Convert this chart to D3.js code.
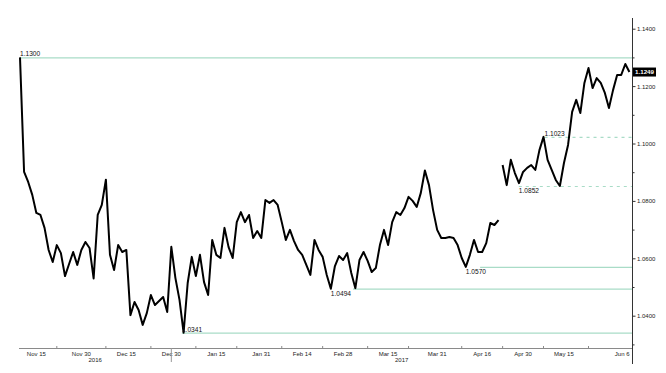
<!DOCTYPE html>
<html>
<head>
<meta charset="utf-8">
<script src="https://cdn.jsdelivr.net/npm/d3@7"></script>
<style>
  body { margin: 0; background: #fff; }
  svg { display: block; font-family: "Liberation Sans", Arial, sans-serif; }
</style>
</head>
<body>
<svg width="666" height="373"></svg>
<script>
// EUR/USD, one reading per trading day (Nov 9 2016 -> Jun 6 2017)
const firstDay = "2016-11-09"
const lastDay = "2017-06-06"
const eurusd = [
  1.1300, 1.0901, 1.0866, 1.0821, 1.0758, 1.0751, 1.0706, 1.0629, 1.0587, 1.0646,
  1.0618, 1.0538, 1.0580, 1.0622, 1.0577, 1.0629, 1.0657, 1.0636, 1.0530, 1.0751,
  1.0786, 1.0874, 1.0612, 1.0559, 1.0646, 1.0622, 1.0629, 1.0402, 1.0448, 1.0420,
  1.0368, 1.0409, 1.0472, 1.0437, 1.0451, 1.0465, 1.0413, 1.0640, 1.0531, 1.0455,
  1.0341, 1.0514, 1.0605, 1.0538, 1.0612, 1.0517, 1.0472, 1.0664, 1.0612, 1.0601,
  1.0706, 1.0639, 1.0601, 1.0726, 1.0761, 1.0726, 1.0751, 1.0671, 1.0695, 1.0671,
  1.0803, 1.0793, 1.0803, 1.0786, 1.0726, 1.0664, 1.0699, 1.0660, 1.0629, 1.0612,
  1.0577, 1.0542, 1.0664, 1.0629, 1.0605, 1.0542, 1.0494, 1.0573, 1.0608, 1.0594,
  1.0618, 1.0549, 1.0496, 1.0594, 1.0622, 1.0591, 1.0552, 1.0566, 1.0646, 1.0699,
  1.0646, 1.0726, 1.0761, 1.0751, 1.0775, 1.0814, 1.0800, 1.0779, 1.0828, 1.0906,
  1.0855, 1.0768, 1.0699, 1.0671, 1.0671, 1.0674, 1.0671, 1.0646, 1.0601, 1.0570,
  1.0612, 1.0664, 1.0622, 1.0622, 1.0653, 1.0723, 1.0716, 1.0733, 1.0925, 1.0855,
  1.0943, 1.0897, 1.0862, 1.0901, 1.0915, 1.0925, 1.0908, 1.0977, 1.1023, 1.0943,
  1.0908, 1.0873, 1.0852, 1.0932, 1.0995, 1.1110, 1.1152, 1.1106, 1.1211, 1.1263,
  1.1193, 1.1228, 1.1211, 1.1176, 1.1124, 1.1186, 1.1239, 1.1239, 1.1277, 1.1249
]
// weekend gap that the chart leaves open (French election)
const gapDays = ["2017-04-24"]

const tickDates = ["2016-11-15", "2016-11-30", "2016-12-15", "2016-12-30", "2017-01-15", "2017-01-31",
  "2017-02-14", "2017-02-28", "2017-03-15", "2017-03-31", "2017-04-16", "2017-04-30", "2017-05-15", "2017-06-06"]
const tickLabels = ["Nov 15", "Nov 30", "Dec 15", "Dec 30", "Jan 15", "Jan 31",
  "Feb 14", "Feb 28", "Mar 15", "Mar 31", "Apr 16", "Apr 30", "May 15", "Jun 6"]
const minorTickDates = ["2016-11-22", "2016-12-08", "2016-12-23", "2017-01-09", "2017-01-23", "2017-02-07",
  "2017-02-21", "2017-03-08", "2017-03-22", "2017-04-10", "2017-04-24", "2017-05-08", "2017-05-23"]
const years = ["2016", "2017"]

const yTicks = [1.04, 1.06, 1.08, 1.10, 1.12, 1.14]
const yMinorTicks = [1.03, 1.05, 1.07, 1.09, 1.11, 1.13]

// high / low levels
const levelValues = [1.1300, 1.0341, 1.0494, 1.0570, 1.0852, 1.1023]
const levelStart = ["2016-11-09T00:00", "2017-01-03T14:00", "2017-03-02T10:00", "2017-04-14T12:00", "2017-04-27T23:00", "2017-05-08T06:00"]
const levelLabelAt = ["2016-11-09T00:00", "2017-01-03T14:00", "2017-02-23T00:00", "2017-04-11T00:00", "2017-04-27T23:00", "2017-05-08T06:00"]
const levelDashed = [false, false, false, false, true, true]
const levelBelow = [false, false, true, true, true, false]

const lastPrice = 1.1249

// ---------------------------------------------------------------

const svg = d3.select("svg")
const parseDay = d3.timeParse("%Y-%m-%d")
const parseTime = d3.timeParse("%Y-%m-%dT%H:%M")

const tradingDays = d3.timeDay.range(parseDay(firstDay), d3.timeDay.offset(parseDay(lastDay), 1))
  .filter(d => d.getDay() !== 0 && d.getDay() !== 6)

function dayIndex(s) {
  const t = s.length > 10 ? parseTime(s) : parseDay(s)
  const day = d3.timeDay.floor(t)
  const i = d3.bisectLeft(tradingDays, day)
  if (tradingDays[i] && +tradingDays[i] === +day) return i + (t - day) / 864e5
  return i
}

const plot = { left: 19, right: 632, top: 18, bottom: 348 }

const x = d3.scaleLinear()
  .domain([0, tradingDays.length - 1])
  .range([20, 629.4])

const y = d3.scaleLinear()
  .domain([1.04, 1.14])
  .range([315.7, 28.7])

const levelColor = "#a9dcc7"

// level lines
levelValues.forEach((v, k) => {
  svg.append("line")
    .attr("x1", x(dayIndex(levelStart[k])))
    .attr("x2", plot.right)
    .attr("y1", y(v) + 0.5)
    .attr("y2", y(v) + 0.5)
    .attr("stroke", levelColor)
    .attr("stroke-width", 1.2)
    .attr("stroke-dasharray", levelDashed[k] ? "3,4" : null)
})

// price line
const gapIdx = gapDays.map(dayIndex)
const segments = []
let cur = []
eurusd.forEach((v, i) => {
  if (gapIdx.includes(i) && cur.length) { segments.push(cur); cur = [] }
  cur.push([i, v])
})
segments.push(cur)

const line = d3.line()
  .x(d => x(d[0]))
  .y(d => y(d[1]))

svg.selectAll(".price")
  .data(segments)
  .enter()
  .append("path")
  .attr("class", "price")
  .attr("d", line)
  .attr("fill", "none")
  .attr("stroke", "#000")
  .attr("stroke-width", 2)
  .attr("stroke-linejoin", "round")

// level labels
levelValues.forEach((v, k) => {
  svg.append("text")
    .attr("x", x(dayIndex(levelLabelAt[k])))
    .attr("y", levelBelow[k] ? y(v) + 7.5 : y(v) - 1)
    .attr("font-size", 6.6)
    .attr("fill", "#111")
    .text(v.toFixed(4))
})

// x axis
svg.append("line")
  .attr("x1", plot.left).attr("x2", plot.right)
  .attr("y1", plot.bottom + 0.5).attr("y2", plot.bottom + 0.5)
  .attr("stroke", "#8a8a8a")

svg.selectAll(".xminor")
  .data(minorTickDates)
  .enter()
  .append("line")
  .attr("x1", d => x(dayIndex(d)))
  .attr("x2", d => x(dayIndex(d)))
  .attr("y1", plot.bottom - 2)
  .attr("y2", plot.bottom + 1)
  .attr("stroke", "#8a8a8a")

svg.selectAll(".xlabel")
  .data(tickDates)
  .enter()
  .append("text")
  .attr("class", "xlabel")
  .attr("x", d => x(dayIndex(d)))
  .attr("y", plot.bottom + 7.5)
  .attr("text-anchor", "middle")
  .attr("font-size", 6)
  .attr("fill", "#222")
  .text((d, i) => tickLabels[i])
  .each(function () {
    const w = this.getComputedTextLength()
    const cx = +this.getAttribute("x")
    if (cx + w / 2 > plot.right - 2) {
      d3.select(this).attr("text-anchor", "end").attr("x", plot.right - 2.5)
    }
  })

// year separator and year labels
const yearEnd = x(dayIndex("2016-12-30"))
svg.append("line")
  .attr("x1", yearEnd).attr("x2", yearEnd)
  .attr("y1", plot.bottom).attr("y2", plot.bottom + 14)
  .attr("stroke", "#999")

const yearSpans = [[plot.left, yearEnd], [yearEnd, plot.right]]
svg.selectAll(".year")
  .data(years)
  .enter()
  .append("text")
  .attr("x", (d, i) => (yearSpans[i][0] + yearSpans[i][1]) / 2)
  .attr("y", plot.bottom + 13.5)
  .attr("text-anchor", "middle")
  .attr("font-size", 6)
  .attr("fill", "#222")
  .text(d => d)

// y axis on the right
svg.append("line")
  .attr("x1", plot.right + 0.5).attr("x2", plot.right + 0.5)
  .attr("y1", plot.top).attr("y2", 364)
  .attr("stroke", "#333")

const yAxis = svg.append("g")
  .attr("transform", `translate(${plot.right + 0.5},0)`)
  .call(d3.axisRight(y).tickValues(yTicks).tickSize(3).tickPadding(1.5).tickFormat(d3.format(".4f")))

yAxis.select(".domain").remove()
yAxis.selectAll(".tick line").attr("stroke", "#333")
yAxis.selectAll(".tick text")
  .attr("font-size", 6)
  .attr("font-family", "Liberation Sans, Arial, sans-serif")
  .attr("fill", "#222")

svg.selectAll(".yminor")
  .data(yMinorTicks)
  .enter()
  .append("line")
  .attr("x1", plot.right)
  .attr("x2", plot.right + 2.5)
  .attr("y1", d => y(d) + 0.5)
  .attr("y2", d => y(d) + 0.5)
  .attr("stroke", "#333")

// last price tag
const tag = svg.append("g").attr("transform", `translate(${plot.right + 1},${y(lastPrice)})`)
tag.append("rect")
  .attr("x", 0).attr("y", -4.5)
  .attr("width", 23).attr("height", 9)
  .attr("fill", "#000")
tag.append("text")
  .attr("x", 11.5).attr("y", 2.2)
  .attr("text-anchor", "middle")
  .attr("font-size", 6.2)
  .attr("font-weight", "bold")
  .attr("fill", "#fff")
  .text(lastPrice.toFixed(4))
</script>
</body>
</html>
